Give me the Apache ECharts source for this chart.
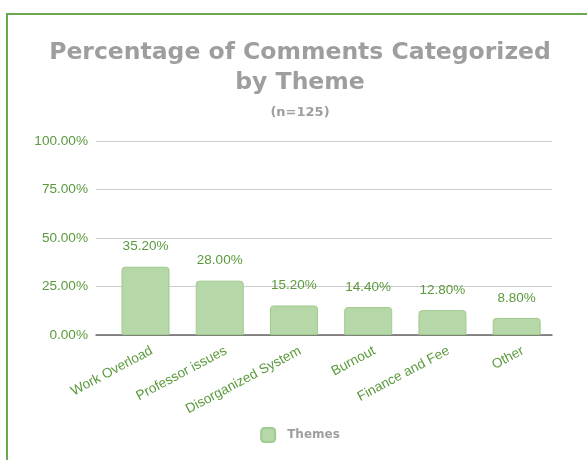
<!DOCTYPE html>
<html>
<head>
<meta charset="utf-8">
<script src="https://cdn.jsdelivr.net/npm/echarts@6/dist/echarts.min.js"></script>
<style>
html,body{margin:0;padding:0;background:#fff;}
#wrap{position:relative;width:587px;height:460px;overflow:hidden;}
#chart{position:absolute;left:7px;top:0;width:586px;height:460px;}
#frame{position:absolute;left:6px;top:13px;width:600px;height:460px;border-left:2px solid #6aa84f;border-top:2px solid #6aa84f;box-sizing:border-box;pointer-events:none;}
</style>
</head>
<body>
<div id="wrap"><div id="chart"></div><div id="frame"></div></div>
<script>
var titleText = 'Percentage of Comments Categorized\nby Theme';
var subtitleText = '(n=125)';
var seriesName = 'Themes';
var categories = ['Work Overload', 'Professor issues', 'Disorganized System', 'Burnout', 'Finance and Fee', 'Other'];
var values = [35.2, 28.0, 15.2, 14.4, 12.8, 8.8];
var yTicks = [0, 25, 50, 75, 100];

var green = '#5a9a3c';
var gray = '#9e9e9e';
var font = 'Liberation Sans, Arial, sans-serif';
var titleFont = 'DejaVu Sans, Verdana, sans-serif';

var chart = echarts.init(document.getElementById('chart'));
chart.setOption({
  animation: false,
  title: [{
    text: titleText,
    left: 'center',
    top: 33,
    textStyle: {fontFamily: titleFont, fontSize: 23.5, fontWeight: 'bold', color: gray, lineHeight: 30}
  }, {
    text: subtitleText,
    left: 'center',
    top: 101,
    textStyle: {fontFamily: titleFont, fontSize: 13, fontWeight: 'bold', color: gray}
  }],
  legend: {
    data: [seriesName],
    bottom: 12,
    left: 'center',
    itemWidth: 14,
    itemHeight: 14,
    icon: 'roundRect',
    textStyle: {fontFamily: titleFont, fontSize: 12, fontWeight: 'bold', color: gray, padding: [0, 0, 0, 7]}
  },
  grid: [
    {left: 89, right: 41, top: 141, bottom: 125},
    {left: 101.4, right: 39.2, top: 141, bottom: 125},
    {left: 107.6, right: 33, top: 141, bottom: 125}
  ],
  xAxis: [{
    type: 'category', gridIndex: 0, data: [''],
    axisLine: {show: true, lineStyle: {color: '#666', width: 1.5}},
    axisTick: {show: false}, axisLabel: {show: false}
  }, {
    type: 'category', gridIndex: 1, data: categories,
    axisLine: {show: false}, axisTick: {show: false}, axisLabel: {show: false}
  }, {
    type: 'category', gridIndex: 2, data: categories,
    axisLine: {show: false}, axisTick: {show: false},
    axisLabel: {rotate: 28, margin: 15, color: green, fontFamily: font, fontSize: 13.6, interval: 0}
  }],
  yAxis: [{
    type: 'value', gridIndex: 0, min: 0, max: 100, interval: 25,
    axisLine: {show: false}, axisTick: {show: false},
    axisLabel: {margin: 8, color: green, fontFamily: font, fontSize: 13.6,
      formatter: function (v) { return v.toFixed(2) + '%'; }},
    splitLine: {lineStyle: {color: '#cccccc', width: 1}}
  }, {
    type: 'value', gridIndex: 1, min: 0, max: 100, interval: 25,
    show: false, splitLine: {show: false}
  }, {
    type: 'value', gridIndex: 2, min: 0, max: 100, interval: 25,
    show: false, splitLine: {show: false}
  }],
  series: [{
    name: seriesName,
    type: 'bar',
    xAxisIndex: 1, yAxisIndex: 1,
    data: values,
    barWidth: 48,
    itemStyle: {color: '#b6d7a8', borderColor: '#9fcb8c', borderWidth: 1, borderRadius: [3, 3, 0, 0]},
    label: {
      show: true, position: 'top', distance: 13,
      color: green, fontFamily: font, fontSize: 13.5,
      formatter: function (p) { return p.value.toFixed(2) + '%'; }
    }
  }]
});
</script>
</body>
</html>
